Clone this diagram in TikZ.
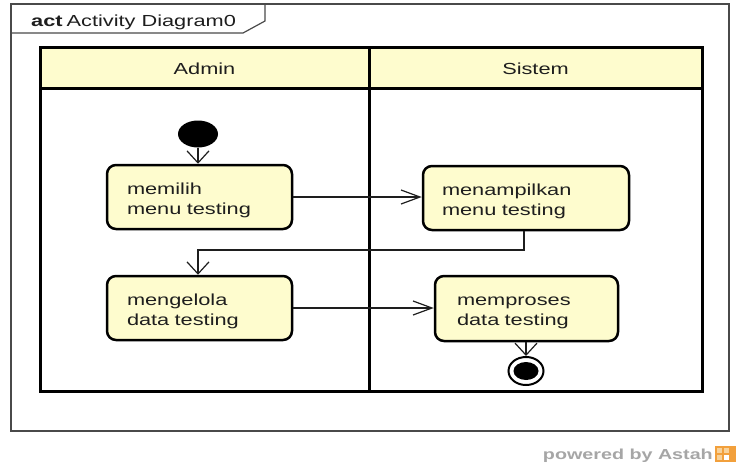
\documentclass[tikz,border=0pt]{standalone}
\usepackage{fontspec}
\setmainfont{Liberation Sans}[FakeStretch=1.36]
\usetikzlibrary{shapes.geometric,arrows.meta}
\definecolor{actfill}{HTML}{FEFCCE}
\definecolor{framegray}{HTML}{4A4A4A}
\definecolor{inkline}{HTML}{1E1E1E}
\definecolor{astahgray}{HTML}{A6A6A6}
\definecolor{astahorange}{HTML}{F2A03C}
\definecolor{astahlight}{HTML}{F8D29A}
% taller first line, so the two text lines sit a little below the box centre
\newcommand{\firststrut}{\rule{0pt}{18pt}}

\begin{document}
\begin{tikzpicture}[x=1pt,y=-1pt,
  font=\fontsize{16}{20}\selectfont,
  action/.style={draw=black, line width=2.5pt, fill=actfill, rounded corners=9pt,
    inner sep=0pt, align=left, text=inkline, minimum height=64pt},
  lanehead/.style={inner sep=0pt, text=inkline},
  flow/.style={draw=inkline, line width=1.2pt},
  hbarb/.style={-{Straight Barb[length=19pt,width=14pt]}},
  vbarb/.style={-{Straight Barb[length=12pt,width=22pt]}},
]
\useasboundingbox (0,0) rectangle (736,463);
\fill[white] (0,0) rectangle (736,463);

% diagram frame with its name tab
\draw[framegray, line width=1.2pt] (11,4) rectangle (729,431);
\draw[framegray, line width=1.2pt] (11,33) -- (243,33) -- (265,21) -- (265,4);
\node[anchor=base west, inner sep=0pt, text=inkline] (tabtitle) at (31,26.5)
  {\textbf{act}\hspace{4pt}Activity Diagram0};

% swimlanes
\fill[actfill] (40,47) rectangle (702,88);
\draw[black, line width=3pt] (40,47) rectangle (702,391);
\draw[black, line width=3pt] (40,88) -- (702,88);
\draw[black, line width=3pt] (369,47) -- (369,391);
\node[lanehead] (adminlane) at (204.5,69) {Admin};
\node[lanehead] (sistemlane) at (535.5,69) {Sistem};

% initial and final nodes
\node[ellipse, fill=black, inner sep=0pt, minimum width=40pt, minimum height=27pt] (start) at (198,134) {};
\node[ellipse, draw=black, line width=2pt, fill=white, inner sep=0pt, minimum width=35pt, minimum height=28pt] (finish) at (526,371) {};
\node[ellipse, fill=black, inner sep=0pt, minimum width=25pt, minimum height=18pt] (finishdot) at (526,371) {};

% actions
\node[action, minimum width=185pt, text width=145pt] (memilih) at (199.5,197) {\firststrut memilih\\menu testing};
\node[action, minimum width=206pt, text width=168pt] (menampilkan) at (526,198) {\firststrut menampilkan\\menu testing};
\node[action, minimum width=185pt, text width=145pt] (mengelola) at (199.5,308) {\firststrut mengelola\\data testing};
\node[action, minimum width=183pt, minimum height=65pt, text width=139pt] (memproses) at (526.5,308.5) {\firststrut memproses\\data testing};

% control flows
\draw[flow, vbarb] (start.south) -- (start.south |- memilih.north);
\draw[flow, hbarb] (memilih.east) -- (memilih.east -| menampilkan.west);
\coordinate (bendright) at (524,250);
\coordinate (bendleft) at (198,250);
\draw[flow, vbarb] (menampilkan.south -| bendright) -- (bendright) -- (bendleft) -- (bendleft |- mengelola.north);
\draw[flow, hbarb] (mengelola.east) -- (mengelola.east -| memproses.west);
\draw[flow, vbarb] (memproses.south -| finish) -- (finish.north);

% footer credit
\node[anchor=base east, inner sep=0pt, text=astahgray, font=\bfseries\fontsize{14.5}{17}\selectfont] (powered) at (713,459) {powered by Astah};
\fill[astahorange] (715,446) rectangle (736,462);
\fill[astahlight] (717,448) rectangle (722,453);
\fill[astahlight] (724,448) rectangle (729,453);
\fill[astahlight] (717,455) rectangle (722,460);
\fill[white] (724,455) rectangle (729,460);
\end{tikzpicture}
\end{document}
